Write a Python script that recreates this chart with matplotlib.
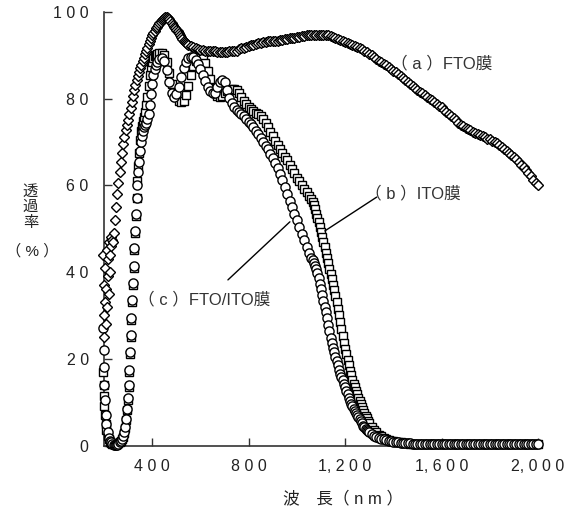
# Transmittance spectra of FTO, ITO and FTO/ITO films
import matplotlib
matplotlib.use('Agg')
import matplotlib.pyplot as plt

# Wavelength grid (nm) shared by the ITO and FTO/ITO spectra
wl = [196, 198, 200, 202, 204, 207, 210, 215, 220, 225, 230, 235, 240, 245, 250, 255, 260, 265, 270, 275, 280,
      284, 288, 292, 296, 299, 302, 305, 308, 311, 314, 317, 320, 323, 326, 329, 332, 335, 338, 341, 344,
      348, 352, 356, 360, 365, 370, 375, 380, 385, 390, 395, 400, 405, 410, 415, 420,
      430, 440, 450, 460, 470, 480, 490, 500, 510, 520, 530, 540, 550, 560, 570, 580, 590, 600,
      610, 620, 630, 640, 650, 660, 670, 680, 690, 700, 710, 720, 730, 740, 750, 760, 770, 780, 790, 800,
      810, 820, 830, 840, 850, 860, 870, 880, 890, 900, 910, 920, 930, 940, 950, 960, 970, 980, 990, 1000,
      1010, 1020, 1030, 1040, 1050, 1060,
      1065, 1070, 1075, 1080, 1085, 1090, 1095, 1100, 1105, 1110, 1115, 1120, 1125, 1130, 1135, 1140,
      1145, 1150, 1155, 1160, 1165, 1170, 1175, 1180,
      1185, 1190, 1195, 1200, 1205, 1210, 1215, 1220, 1225, 1230, 1235, 1240, 1245, 1250, 1255, 1260,
      1265, 1270, 1275, 1280, 1285, 1290, 1295, 1300,
      1310, 1320, 1330, 1340, 1350, 1360, 1370, 1380, 1390, 1400,
      1410, 1420, 1430, 1440, 1450, 1460, 1470, 1480, 1490, 1500,
      1510, 1520, 1530, 1540, 1550, 1560, 1570, 1580, 1590, 1600,
      1610, 1620, 1630, 1640, 1650, 1660, 1670, 1680, 1690, 1700,
      1710, 1720, 1730, 1740, 1750, 1760, 1770, 1780, 1790, 1800,
      1810, 1820, 1830, 1840, 1850, 1860, 1870, 1880, 1890, 1900,
      1910, 1920, 1930, 1940, 1950, 1960, 1970, 1980, 1990, 2000]

# (b) ITO film, transmittance (%)
ito_t = [17, 14, 11.5, 9, 7, 5, 3.5, 2.2, 1.4, 0.9, 0.6, 0.4, 0.3, 0.3, 0.3, 0.4, 0.5, 0.7, 1.0, 1.4, 2.0,
         2.8, 4.0, 5.8, 8.2, 10.5, 13.5, 17, 21, 25, 29, 33, 37, 41, 45, 49, 53, 57, 61, 64.5, 67.5,
         70.5, 72.5, 73.8, 74.8, 75.8, 77, 78.6, 80.5, 83, 85.5, 87.3, 88.5, 89.3, 89.8, 90.1, 90.3,
         90.5, 90.6, 90, 88.5, 86, 83.5, 81.5, 80.3, 79.5, 79.2, 79.5, 80.8, 83, 85.5, 87.5, 88.8, 89.5, 89.7,
         89.3, 88.2, 86.5, 84.5, 82.5, 81.2, 80.6, 80.5, 80.7, 81.2, 81.7, 82.1, 82.3, 82.3, 82, 81.2, 80.3, 79.5, 78.8, 78.2,
         77.7, 77.2, 76.8, 76.4, 75.9, 75.4, 74.5, 73.5, 72.4, 71.3, 70.3, 69.3, 68.4, 67.5, 66.6, 65.8, 64.8, 63.8, 62.8, 61.8,
         60.9, 60, 59.2, 58.4, 57.6, 56.8,
         56.2, 55.5, 54.5, 53.5, 52.5, 51.5, 50.4, 49.3, 48.2, 47, 45.8, 44.5, 43.2, 42, 40.8, 39.5,
         38.3, 37, 35.8, 34.5, 33, 31.5, 30, 28.5,
         26.9, 25.3, 23.7, 22.2, 21, 19.8, 18.5, 17.3, 16.2, 15.2, 14.3, 13.5, 12.6, 11.8, 11, 10.3,
         9.5, 8.8, 8.1, 7.5, 6.9, 6.3, 5.7, 5.2,
         4.3, 3.6, 3.0, 2.5, 2.1, 1.8, 1.5, 1.3, 1.1, 1.0,
         0.9, 0.8, 0.7, 0.6, 0.55, 0.5, 0.45, 0.4, 0.38, 0.35,
         0.3, 0.3, 0.3, 0.3, 0.3, 0.3, 0.3, 0.3, 0.3, 0.3,
         0.3, 0.3, 0.3, 0.3, 0.3, 0.3, 0.3, 0.3, 0.3, 0.3,
         0.3, 0.3, 0.3, 0.3, 0.3, 0.3, 0.3, 0.3, 0.3, 0.3,
         0.3, 0.3, 0.3, 0.3, 0.3, 0.3, 0.3, 0.3, 0.3, 0.3,
         0.3, 0.3, 0.3, 0.3, 0.3, 0.3, 0.3, 0.3, 0.3, 0.3]

# (c) FTO/ITO film, transmittance (%)
both_t = [27, 22, 18, 14, 10.5, 7, 5, 3, 1.8, 1.1, 0.7, 0.4, 0.2, 0.1, 0.1, 0.2, 0.4, 0.7, 1.1, 1.6, 2.3,
          3.1, 4.3, 6, 8.5, 11, 14, 17.5, 21.5, 25.5, 29.5, 33.5, 37.5, 41.5, 45.5, 49.5, 53.5, 57, 60, 63, 65.5,
          68, 70, 71.5, 72.5, 73.5, 74, 74.5, 75.3, 76.5, 78.5, 81, 83.5, 85.5, 86.8, 87.7, 88.4,
          89.1, 89.3, 88.6, 86.7, 83.8, 81.2, 80.3, 81, 82.8, 85, 87.1, 88.5, 89.3, 89.7, 89.6, 89, 88, 86.8,
          85.5, 84.1, 82.7, 81.7, 81.2, 81.4, 82.6, 83.9, 84.4, 83.8, 82, 80.2, 78.9, 78.1, 77.5, 77, 76.5, 76, 75.4, 74.7,
          74.1, 73.4, 72.6, 71.8, 70.9, 70, 69.2, 68.3, 67.3, 66.3, 65.2, 64, 62.7, 61.3, 59.7, 58, 56.5, 55, 53.5, 52,
          50.4, 48.8, 47.3, 45.8, 44.5, 43.3,
          42.7, 42.1, 41.5, 40.8, 39.8, 38.6, 37.3, 36, 34.7, 33.3, 32, 30.9, 29.5, 27.9, 26.3, 24.8,
          23.6, 22.5, 21.5, 20.5, 19.5, 18.5, 17.5, 16.6,
          15.8, 15, 14.2, 13.4, 12.6, 11.8, 11, 10.3, 9.6, 9, 8.5, 8, 7.5, 7.1, 6.6, 6.1,
          5.6, 5.1, 4.6, 4.2, 3.9, 3.6, 3.3, 3,
          2.6, 2.3, 2.0, 1.8, 1.6, 1.4, 1.25, 1.1, 1.0, 0.9,
          0.82, 0.75, 0.68, 0.6, 0.55, 0.5, 0.47, 0.45, 0.42, 0.4,
          0.35, 0.35, 0.35, 0.35, 0.35, 0.35, 0.35, 0.35, 0.35, 0.35,
          0.35, 0.35, 0.35, 0.35, 0.35, 0.35, 0.35, 0.35, 0.35, 0.35,
          0.35, 0.35, 0.35, 0.35, 0.35, 0.35, 0.35, 0.35, 0.35, 0.35,
          0.35, 0.35, 0.35, 0.35, 0.35, 0.35, 0.35, 0.35, 0.35, 0.35,
          0.35, 0.35, 0.35, 0.35, 0.35, 0.35, 0.35, 0.35, 0.35, 0.35]

# (a) FTO film, its own wavelength grid (nm) and transmittance (%)
fto_nm = [196, 198, 200, 202, 204, 206, 208, 210, 212, 214, 216, 218, 220, 222, 224, 226, 228, 230, 233, 236,
          240, 245, 250, 255, 260, 265, 270, 275, 280, 285, 290, 295, 300, 305, 310, 315, 320, 325, 330, 335,
          340, 345, 350, 355, 360, 365, 370, 375, 380, 385, 390, 395, 400, 405, 410, 415, 420, 425, 430, 435,
          440, 445, 450, 455, 460, 465, 470, 475, 480, 485, 490, 495, 500, 505, 510, 515, 520, 525, 530, 535,
          540, 545, 550, 560, 570, 580, 590, 600,
          610, 620, 630, 640, 650, 660, 670, 680, 690, 700,
          710, 720, 730, 740, 750, 760, 770, 780, 790, 800,
          810, 820, 830, 840, 850, 860, 870, 880, 890, 900,
          910, 920, 930, 940, 950, 960, 970, 980, 990, 1000,
          1010, 1020, 1030, 1040, 1050, 1060, 1070, 1080, 1090, 1100,
          1110, 1120, 1130, 1140, 1150, 1160, 1170, 1180, 1190, 1200,
          1210, 1220, 1230, 1240, 1250, 1260, 1270, 1280, 1290, 1300,
          1310, 1320, 1330, 1340, 1350, 1360, 1370, 1380, 1390, 1400,
          1410, 1420, 1430, 1440, 1450, 1460, 1470, 1480, 1490, 1500,
          1510, 1520, 1530, 1540, 1550, 1560, 1570, 1580, 1590, 1600,
          1610, 1620, 1630, 1640, 1650, 1660, 1670, 1680, 1690, 1700,
          1710, 1720, 1730, 1740, 1750, 1760, 1770, 1780, 1790, 1800,
          1810, 1820, 1830, 1840, 1850, 1860, 1870, 1880, 1890, 1900,
          1910, 1920, 1930, 1940, 1950, 1960, 1970, 1980, 1990, 2000]
fto_t = [44, 37, 30, 25, 33, 41, 28, 36, 45, 32, 39, 43, 35, 47, 40, 44, 48, 46, 47.5, 47,
         49, 52, 55, 58, 60.5, 63, 65.5, 67.5, 69.5, 71.2, 72.7, 74, 75.2, 76.5, 77.8, 79.2, 80.6, 82, 83.2, 84.3,
         85.3, 86.2, 87, 87.8, 88.6, 89.4, 90.2, 91, 91.8, 92.6, 93.3, 94, 94.6, 95.2, 95.7, 96.2, 96.6, 97, 97.4, 97.8,
         98.1, 98.4, 98.6, 98.8, 98.8, 98.7, 98.4, 98, 97.5, 97, 96.6, 96.2, 95.9, 95.6, 95.2, 94.8, 94.3, 93.8, 93.4, 93.1,
         92.8, 92.6, 92.4, 92.1, 91.9, 91.7, 91.5, 91.3,
         91.2, 91.1, 91.0, 91.0, 90.9, 90.9, 90.8, 90.8, 90.8, 90.8,
         90.8, 90.9, 91.0, 91.1, 91.0, 91.4, 91.6, 91.8, 92.0, 92.2,
         92.4, 92.5, 92.7, 92.8, 92.9, 93.0, 93.1, 93.2, 93.2, 93.3,
         93.3, 93.4, 93.5, 93.6, 93.7, 93.8, 93.9, 94.0, 94.1, 94.2,
         94.3, 94.4, 94.5, 94.6, 94.6, 94.7, 94.8, 94.8, 94.8, 94.8,
         94.8, 94.7, 94.6, 94.4, 94.2, 94.0, 93.8, 93.5, 93.3, 93.0,
         92.8, 92.6, 92.4, 92.2, 92.0, 91.7, 91.4, 91.1, 90.8, 90.4,
         90.0, 89.6, 89.2, 88.8, 88.4, 88.0, 87.7, 87.3, 86.9, 86.5,
         86.1, 85.6, 85.2, 84.7, 84.3, 83.8, 83.4, 82.9, 82.4, 82.0,
         81.6, 81.2, 80.8, 80.4, 80.0, 79.6, 79.2, 78.8, 78.4, 78.0,
         77.5, 77.0, 76.5, 76.0, 75.5, 75.0, 74.5, 74.0, 73.6, 73.3,
         73.0, 72.7, 72.4, 72.1, 71.8, 71.6, 71.3, 71.1, 70.8, 70.6,
         70.3, 70.0, 69.7, 69.3, 68.9, 68.5, 68.0, 67.5, 67.0, 66.5,
         66.0, 65.4, 64.8, 64.2, 63.5, 62.8, 62.1, 61.3, 60.6, 60.0]

# Tick labels (spaced digits as in the original)
x_ticks = [400, 800, 1200, 1600, 2000]
x_labels = ['4 0 0', '8 0 0', '1, 2 0 0', '1, 6 0 0', '2, 0 0 0']
y_ticks = [0, 20, 40, 60, 80, 100]
y_labels = ['0', '2 0', '4 0', '6 0', '8 0', '1 0 0']


def main():
    assert len(wl) == len(ito_t) == len(both_t), (len(wl), len(ito_t), len(both_t))
    assert len(fto_nm) == len(fto_t), (len(fto_nm), len(fto_t))

    plt.rcParams['font.family'] = ['Liberation Sans', 'Noto Sans CJK JP', 'DejaVu Sans']

    W, H = 579, 509
    fig = plt.figure(figsize=(W / 100, H / 100), dpi=100)
    ax = fig.add_axes([104 / W, 1 - 445.5 / H, 434 / W, 433.5 / H])

    # Spectra: white markers with black edges
    style = dict(ls='none', mfc='white', mec='black', mew=1.0, clip_on=False)
    ax.plot(wl, ito_t, marker='s', ms=5.8, zorder=3, **style)
    ax.plot(wl, both_t, marker='o', ms=6.6, zorder=4, **style)
    ax.plot(fto_nm, fto_t, marker='D', ms=4.8, zorder=5, **style)

    ax.set_xlim(200, 2000)
    ax.set_ylim(0, 100)

    # Axes look
    for pos in ['top', 'right']:
        ax.spines[pos].set_visible(False)
    for pos in ['left', 'bottom']:
        ax.spines[pos].set_color('#333333')
        ax.spines[pos].set_linewidth(1.2)
        ax.spines[pos].set_zorder(2)
    ax.set_xticks(x_ticks)
    ax.set_xticklabels(x_labels)
    ax.set_yticks(y_ticks)
    ax.set_yticklabels(y_labels)
    ax.tick_params(direction='in', length=6, width=1, color='#333333',
                   labelsize=11.5, labelcolor='#222222')
    ax.tick_params(axis='x', pad=10)
    ax.tick_params(axis='y', pad=11)

    # Axis titles
    fig.text(343 / W, 1 - 498 / H, '波　長（ n m ）', ha='center', va='center',
             fontsize=12, color='#222222')
    for ch, py in zip(['透', '過', '率'], [191.5, 206.5, 222.5]):
        fig.text(30.5 / W, 1 - py / H, ch, ha='center', va='center', fontsize=11, color='#222222')
    fig.text(32 / W, 1 - 251 / H, '（ % ）', ha='center', va='center', fontsize=11, color='#222222')

    # Curve labels with leader lines
    lab = dict(fontsize=12, color='#333333', va='center', ha='left')
    ax.text(1389, 88.2, '（ a ）FTO膜', **lab)
    ax.text(1282, 58.2, '（ b ）ITO膜', **lab)
    ax.text(341, 33.6, '（ c ）FTO/ITO膜', **lab)
    line = dict(arrowstyle='-', lw=1, color='black', shrinkA=0, shrinkB=0)
    ax.annotate('', xy=(1116, 49.5), xytext=(1331, 57.3), arrowprops=line)
    ax.annotate('', xy=(971, 51.6), xytext=(714, 38.2), arrowprops=line)

    fig.savefig('out.png', dpi=100)
    return 0


if __name__ == '__main__':
    exit(main())
